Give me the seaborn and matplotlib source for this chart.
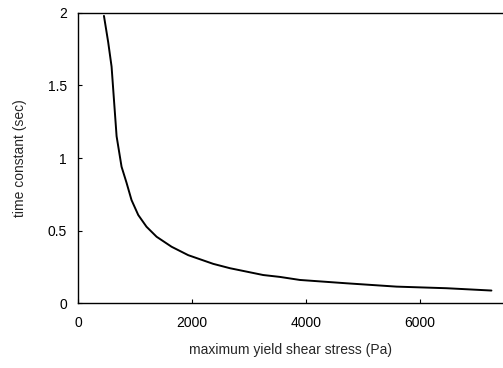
import matplotlib
matplotlib.use("Agg")
import matplotlib.pyplot as plt
import seaborn as sns
import pandas as pd

stress = [456, 530, 590, 632, 678, 765, 852, 940, 1058, 1203, 1380, 1643, 1935, 2374, 2667, 3251, 3544, 3895, 4714, 5591, 6468, 7257]
tau = [1.98, 1.80, 1.63, 1.40, 1.15, 0.94, 0.83, 0.71, 0.607, 0.526, 0.457, 0.388, 0.33, 0.27, 0.24, 0.193, 0.18, 0.159, 0.136, 0.113, 0.102, 0.086]
xticks = [0, 2000, 4000, 6000]
yticks = [0, 0.5, 1, 1.5, 2]
yticklabels = ["0", "0.5", "1", "1.5", "2"]

sns.set_theme(style="ticks")
plt.rcParams['font.family'] = ['Liberation Sans', 'DejaVu Sans']

df = pd.DataFrame({"x": stress, "y": tau})
fig = plt.figure(figsize=(5.03, 3.68), dpi=100)
ax = fig.add_axes([0.155, 0.1766, 0.845, 0.7881])
sns.lineplot(data=df, x="x", y="y", ax=ax, color="black", linewidth=1.4)
ax.set_xlim(0, 7460)
ax.set_ylim(0, 2)
ax.set_xticks(xticks)
ax.set_xticklabels([str(t) for t in xticks])
ax.set_yticks(yticks)
ax.set_yticklabels(yticklabels)
ax.tick_params(direction="in", length=3, width=0.8, labelsize=10, colors="black", pad=8)
ax.tick_params(axis="x", pad=9)
for s in ["left", "bottom", "top"]:
    ax.spines[s].set_color("black")
    ax.spines[s].set_linewidth(1.0)
ax.spines["right"].set_visible(False)
ax.set_xlabel("maximum yield shear stress (Pa)", fontsize=10, labelpad=10)
ax.set_ylabel("time constant (sec)", fontsize=10, labelpad=15)
fig.savefig("out.png", dpi=100)
